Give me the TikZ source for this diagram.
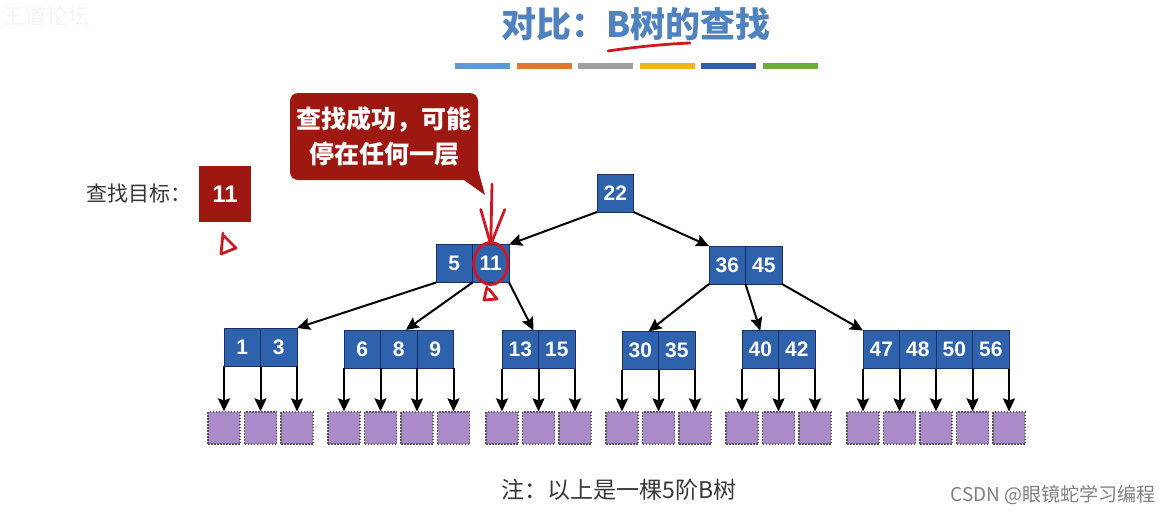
\documentclass[tikz,border=0pt]{standalone}
\usepackage{fontspec}
\setsansfont{Liberation Sans}
\newfontfamily\cjk{Noto Sans CJK SC}
\usetikzlibrary{positioning,arrows.meta}
\definecolor{nodeblue}{RGB}{46,98,172}
\definecolor{nodeedge}{RGB}{28,48,105}
\definecolor{darkred}{RGB}{158,24,18}
\definecolor{penred}{RGB}{205,25,35}
\definecolor{titleblue}{RGB}{80,130,192}
\definecolor{leafpurple}{RGB}{170,138,200}
\definecolor{textgray}{RGB}{55,55,55}
\definecolor{barA}{RGB}{100,150,210}
\definecolor{barB}{RGB}{224,120,50}
\definecolor{barC}{RGB}{160,160,160}
\definecolor{barD}{RGB}{235,185,20}
\definecolor{barE}{RGB}{55,90,170}
\definecolor{barF}{RGB}{110,170,60}
\newcommand{\fsz}[2]{\fontsize{#1}{#2}\selectfont}

\begin{document}
\begin{tikzpicture}[x=1pt,y=-1pt,
  cellbox/.style={draw=nodeedge,fill=nodeblue,text=white,line width=0.9pt,
                  font=\sffamily\bfseries\fsz{21}{24},minimum width=36.5pt,
                  minimum height=38pt,inner sep=0pt,outer sep=0pt},
  leafbox/.style={draw=black!65,dash pattern=on 1.5pt off 1.5pt,line width=1.2pt,
                  fill=leafpurple,minimum size=32pt,inner sep=0pt},
  treeedge/.style={line width=2pt,-{Stealth[length=13pt,width=12pt,inset=2pt]}},
  pen/.style={draw=penred,line width=2.8pt,line cap=round,line join=round},
  cjktext/.style={inner sep=0pt,font=\cjk\fsz{21}{25},text=textgray}
]
\fill[white] (0,0) rectangle (1174,514);
\useasboundingbox (0,0) rectangle (1174,514);

% title and colour bars
\node[inner sep=0pt,font=\cjk\fsz{22}{24},text=black!4,anchor=west] (mark) at (2,16) {王道论坛};
\node[inner sep=0pt,font=\cjk\bfseries\fsz{35}{40},text=titleblue] (title) at (636,24) {对比：B树的查找};
\foreach \c [count=\i from 0] in {barA,barB,barC,barD,barE,barF}
  \fill[\c] ({455+\i*61.6},63) rectangle ++(55,6);

% search target
\node[cjktext,anchor=east] (goal) at (192,194) {查找目标：};
\node[fill=darkred,text=white,font=\sffamily\bfseries\fsz{24}{28},
      minimum width=52pt,minimum height=56pt,inner sep=0pt] (target) at (225,194) {11};

% callout
\node[fill=darkred,rounded corners=8pt,text=white,font=\cjk\bfseries\fsz{25}{35},
      align=center,minimum width=188pt,minimum height=87pt,inner sep=0pt] (bubble) at (384,136.5)
      {查找成功，可能\\停在任何一层};
\coordinate (tip) at (485,195);
\fill[darkred] ([xshift=-14pt]bubble.south east) -- (tip) -- ([yshift=10pt]bubble.south east) -- cycle;

% B tree nodes
\node[cellbox] (k22) at (615.25,193) {22};
\node[cellbox] (k5) at (454.25,263.5) {5};
\node[cellbox,right=0pt of k5] (k11) {11};
\node[cellbox] (k36) at (727.25,265) {36};
\node[cellbox,right=0pt of k36] (k45) {45};
\node[cellbox] (k1) at (242.25,347) {1};
\node[cellbox,right=0pt of k1] (k3) {3};
\node[cellbox] (k6) at (362.25,349) {6};
\node[cellbox,right=0pt of k6] (k8) {8};
\node[cellbox,right=0pt of k8] (k9) {9};
\node[cellbox] (k13) at (520.25,349.5) {13};
\node[cellbox,right=0pt of k13] (k15) {15};
\node[cellbox] (k30) at (640.25,350.5) {30};
\node[cellbox,right=0pt of k30] (k35) {35};
\node[cellbox] (k40) at (760.25,349.5) {40};
\node[cellbox,right=0pt of k40] (k42) {42};
\node[cellbox] (k47) at (881.25,349.5) {47};
\node[cellbox,right=0pt of k47] (k48) {48};
\node[cellbox,right=0pt of k48] (k50) {50};
\node[cellbox,right=0pt of k50] (k56) {56};

\draw[treeedge] (k22.south west) -- (k11.north east);
\draw[treeedge] (k22.south east) -- (k36.north west);
\draw[treeedge] (k5.south west) -- (k3.north east);
\draw[treeedge] (k5.south east) -- ([xshift=7pt]k8.north);
\draw[treeedge] (k11.south east) -- ([xshift=-5pt]k15.north west);
\draw[treeedge] (k36.south west) -- ([xshift=-10pt]k30.north east);
\draw[treeedge] (k36.south east) -- (k40.north);
\draw[treeedge] (k45.south east) -- (k47.north west);

% failure leaves
\coordinate (leafrow) at (0,428);
\foreach \a [count=\i] in {k1.south west,k3.south west,k3.south east,
    k6.south west,k8.south west,k9.south west,k9.south east,
    k13.south west,k15.south west,k15.south east,
    k30.south west,k35.south west,k35.south east,
    k40.south west,k42.south west,k42.south east,
    k47.south west,k48.south west,k50.south west,k56.south west,k56.south east}{
  \node[leafbox] (l\i) at (\a |- leafrow) {};
  \draw[treeedge] (\a) -- (l\i.north);
}

% pen marks
\draw[pen] (608,51) .. controls (635,47) and (665,44) .. (690,43);
\draw[pen] (223,233) -- (221,254) -- (236,248) -- (224,236);
\coordinate (pentop) at (492,184);
\draw[pen] (pentop) -- (k11.north);
\draw[pen] ([shift={(-10,-35)}]k11.north) -- (k11.north) -- ([shift={(14,-35)}]k11.north);
\draw[pen] (k11.center) ellipse [x radius=17,y radius=21];
\draw[pen] (487,287) -- (484,300) -- (497,299) -- (489,289);

% footer
\node[cjktext,font=\cjk\fsz{23}{27}] (note) at (619,490) {注：以上是一棵5阶B树};
\node[inner sep=0pt,font=\cjk\fsz{19}{22},text=black!50] (csdn) at (1053,495) {CSDN @眼镜蛇学习编程};
\end{tikzpicture}
\end{document}
